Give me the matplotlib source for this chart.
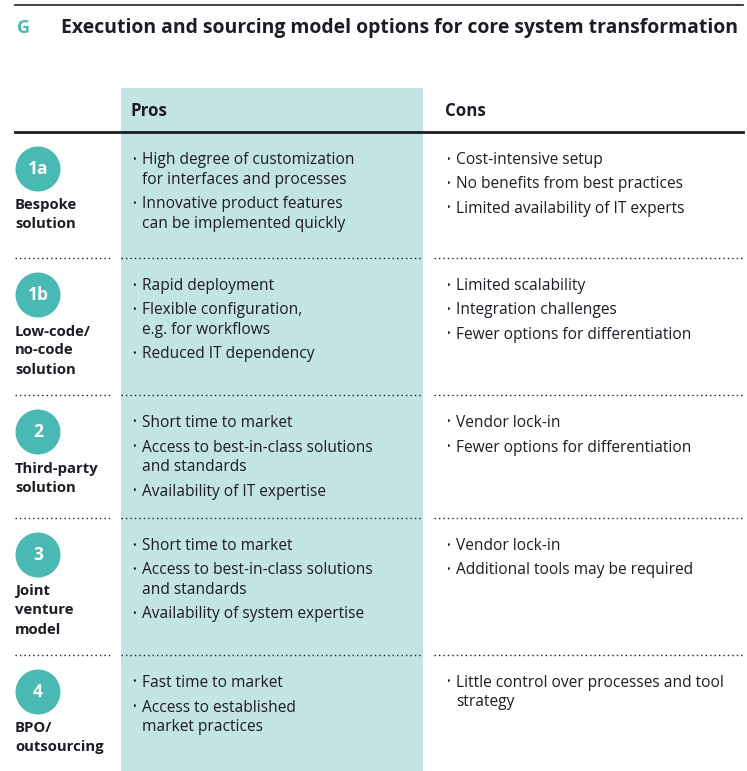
import matplotlib
matplotlib.use("Agg")
import matplotlib.pyplot as plt
from matplotlib.patches import Rectangle, Circle

plt.rcParams['font.family'] = ['Open Sans', 'DejaVu Sans']

TEAL = '#48b9b3'
LIGHT = '#c3e4e5'
INK = '#1c1c24'

title = "Execution and sourcing model options for core system transformation"
badges = ["1a", "1b", "2", "3", "4"]
labels = [
    ["Bespoke", "solution"],
    ["Low-code/", "no-code", "solution"],
    ["Third-party", "solution"],
    ["Joint", "venture", "model"],
    ["BPO/", "outsourcing"],
]
pros = [
    [["High degree of customization", "for interfaces and processes"],
     ["Innovative product features", "can be implemented quickly"]],
    [["Rapid deployment"],
     ["Flexible configuration,", "e.g. for workflows"],
     ["Reduced IT dependency"]],
    [["Short time to market"],
     ["Access to best-in-class solutions", "and standards"],
     ["Availability of IT expertise"]],
    [["Short time to market"],
     ["Access to best-in-class solutions", "and standards"],
     ["Availability of system expertise"]],
    [["Fast time to market"],
     ["Access to established", "market practices"]],
]
cons = [
    [["Cost-intensive setup"], ["No benefits from best practices"],
     ["Limited availability of IT experts"]],
    [["Limited scalability"], ["Integration challenges"],
     ["Fewer options for differentiation"]],
    [["Vendor lock-in"], ["Fewer options for differentiation"]],
    [["Vendor lock-in"], ["Additional tools may be required"]],
    [["Little control over processes and tool", "strategy"]],
]

# layout (pixels)
W, H = 747, 771
row_tops = [132, 258, 395, 518, 655]
pros_x0, pros_x1 = 121, 423
left, right = 15, 743
line_step, item_step = 19.5, 24.5

fig = plt.figure(figsize=(W / 100, H / 100), dpi=100)
ax = fig.add_axes([0, 0, 1, 1])
ax.set_xlim(0, W)
ax.set_ylim(H, 0)
ax.axis('off')

# header
ax.plot([left, right], [5, 5], color=INK, lw=1.2)
ax.text(17, 28, "G", color=TEAL, fontsize=13, fontweight='bold', va='center')
ax.text(61, 28, title, color=INK, fontsize=13.95, fontweight='bold', va='center')

ax.add_patch(Rectangle((pros_x0, 88), pros_x1 - pros_x0, H - 88, color=LIGHT, lw=0))
ax.text(131, 111, "Pros", color=INK, fontsize=12.2, fontweight='bold', va='center')
ax.text(445, 111, "Cons", color=INK, fontsize=12.2, fontweight='bold', va='center')
ax.plot([left, right], [132, 132], color=INK, lw=2)


def bullets(items, x, y0):
    y = y0
    for item in items:
        ax.text(x - 10, y, "\u2022", color=INK, fontsize=7, va='center')
        for k, line in enumerate(item):
            ax.text(x, y + k * line_step, line, color=INK, fontsize=11.2, va='center')
        y += (len(item) - 1) * line_step + item_step


for i, top in enumerate(row_tops):
    if i > 0:
        for a, b in [(left, 110), (pros_x0, pros_x1), (434, right)]:
            ax.plot([a, b], [top, top], color=INK, lw=1, ls=(0, (1, 2.2)))
    cy = top + 37
    ax.add_patch(Circle((38, cy), 22.5, color=TEAL, lw=0))
    ax.text(38, cy, badges[i], color='white', fontsize=12.5, fontweight='bold',
            ha='center', va='center')
    for k, line in enumerate(labels[i]):
        ax.text(15, cy + 36.5 + k * 19, line, color=INK, fontsize=10.7,
                fontweight='bold', va='center')
    bullets(pros[i], 142, top + 28)
    bullets(cons[i], 456, top + 28)

fig.savefig("out.png", dpi=100)
